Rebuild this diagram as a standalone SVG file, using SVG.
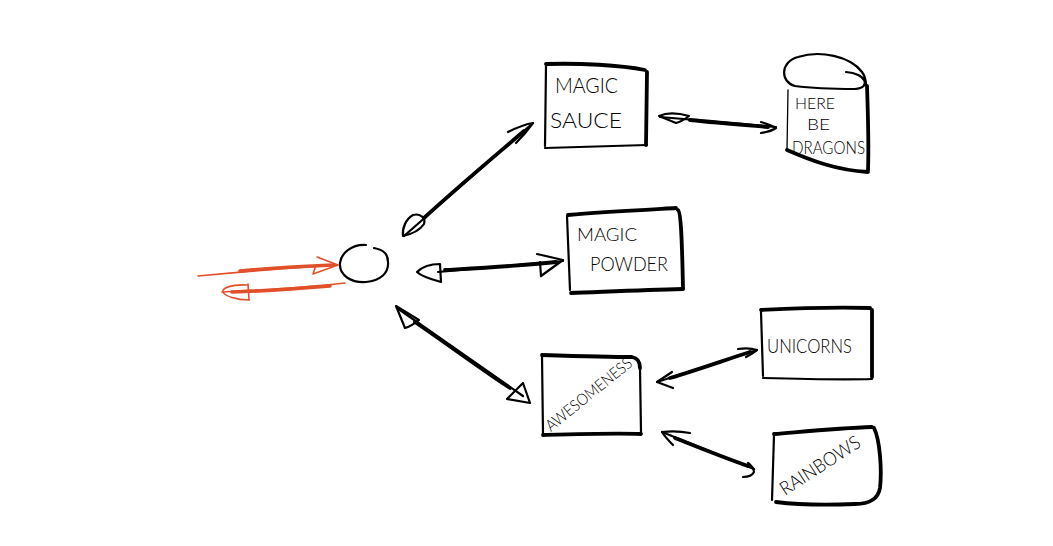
<svg xmlns="http://www.w3.org/2000/svg" width="1053" height="546" viewBox="0 0 1053 546">
  <style>
    .ln { fill: none; stroke: #000; stroke-width: 2.2; stroke-linecap: round; stroke-linejoin: round; }
    .th { fill: none; stroke: #000; stroke-width: 3.8; stroke-linecap: round; stroke-linejoin: round; }
    .fine { fill: none; stroke: #000; stroke-width: 1.3; stroke-linecap: round; stroke-linejoin: round; }
    .red { fill: none; stroke: #e2502a; stroke-width: 1.6; stroke-linecap: round; stroke-linejoin: round; }
    .redth { fill: none; stroke: #e2502a; stroke-width: 3.6; stroke-linecap: round; }
    .lbl { font-family: Lato, "Open Sans", "DejaVu Sans", sans-serif; font-weight: 300; fill: #000; }
  </style>
  <rect width="1053" height="546" fill="#fff"/>

  <!-- hub circle -->
  <g id="hub">
    <path class="ln" d="M366 245 C352 244 341 253 340 263 C339 276 352 283 366 282 C380 281 389 273 388 262 C388 254 384 250 374 248"/>
  </g>

  <!-- Magic Sauce -->
  <g id="magic-sauce">
    <path class="th" d="M546 64 C580 63 620 65 645 70"/>
    <path class="ln" d="M546 66 L545 146"/>
    <path class="th" d="M647 72 L646 145"/>
    <path class="ln" d="M545 148 C580 147 615 146 647 145"/>
    <text class="lbl" x="555" y="93" font-size="22" textLength="63" lengthAdjust="spacingAndGlyphs">MAGIC</text>
    <text class="lbl" x="550" y="128" font-size="22" textLength="72" lengthAdjust="spacingAndGlyphs">SAUCE</text>
  </g>

  <!-- Here Be Dragons (cylinder) -->
  <g id="here-be-dragons">
    <path class="ln" d="M846 72 C866 73 872 88 855 89 C835 89 810 88 795 86 C780 82 780 62 798 57 C820 50 850 56 862 72 C865 76 866 80 866 85"/>
    <path class="fine" d="M788 90 L787 150"/>
    <path class="th" d="M867 86 C868 115 869 145 868 170"/>
    <path class="th" d="M787 150 C810 160 835 170 868 172"/>
    <text class="lbl" x="795" y="109" font-size="16" textLength="40" lengthAdjust="spacingAndGlyphs">HERE</text>
    <text class="lbl" x="807" y="130" font-size="16" textLength="23" lengthAdjust="spacingAndGlyphs">BE</text>
    <text class="lbl" x="792" y="154" font-size="17" textLength="73" lengthAdjust="spacingAndGlyphs">DRAGONS</text>
  </g>

  <!-- Magic Powder -->
  <g id="magic-powder">
    <path class="th" d="M568 215 C600 212 640 210 676 208"/>
    <path class="ln" d="M567 216 L570 290"/>
    <path class="th" d="M678 210 C681 212 682 240 683 288"/>
    <path class="th" d="M571 293 C600 292 640 290 683 289"/>
    <text class="lbl" x="577" y="241" font-size="17" textLength="60" lengthAdjust="spacingAndGlyphs">MAGIC</text>
    <text class="lbl" x="590" y="271" font-size="20" textLength="78" lengthAdjust="spacingAndGlyphs">POWDER</text>
  </g>

  <!-- Awesomeness -->
  <g id="awesomeness">
    <path class="th" d="M542 355 C575 356 610 357 632 357 C638 358 640 362 640 368"/>
    <path class="ln" d="M542 356 L543 434"/>
    <path class="ln" d="M640 368 L641 432"/>
    <path class="th" d="M543 435 C580 434 615 433 641 434"/>
    <text class="lbl" font-size="16" textLength="106" lengthAdjust="spacingAndGlyphs" transform="translate(551 432) rotate(-39)">AWESOMENESS</text>
  </g>

  <!-- Unicorns -->
  <g id="unicorns">
    <path class="th" d="M761 310 C800 308 840 307 870 308"/>
    <path class="ln" d="M761 312 L763 376"/>
    <path class="th" d="M872 310 L872 377"/>
    <path class="ln" d="M763 378 C800 379 840 380 872 379"/>
    <text class="lbl" x="767" y="353" font-size="19" textLength="85" lengthAdjust="spacingAndGlyphs">UNICORNS</text>
  </g>

  <!-- Rainbows -->
  <g id="rainbows">
    <path class="th" d="M774 434 C810 431 840 428 872 427"/>
    <path class="ln" d="M774 435 L772 500"/>
    <path class="th" d="M874 428 C880 440 882 470 880 488 C878 500 868 504 855 504 C830 505 800 505 776 502"/>
    <text class="lbl" font-size="19" textLength="92" lengthAdjust="spacingAndGlyphs" transform="translate(785 496) rotate(-33)">RAINBOWS</text>
  </g>

  <!-- connectors -->
  <g id="connectors">
    <!-- red in/out pair -->
    <path class="red" d="M198 276 C240 272 290 268 338 265"/>
    <path class="redth" d="M240 271 C280 267 310 266 334 265"/>
    <path class="red" d="M317 257 L338 265 L313 274 L316 265"/>
    <path class="red" d="M345 283 C300 288 260 290 222 292"/>
    <path class="redth" d="M330 286 C295 289 262 291 232 292"/>
    <path class="red" d="M247 285 C232 284 222 288 223 292 C225 296 236 300 249 300"/>
    <path class="red" d="M248 284 L249 300"/>

    <!-- hub to Magic Sauce -->
    <path class="ln" d="M404 236 L533 123"/>
    <path class="th" d="M424 218 C460 185 495 156 524 131"/>
    <path class="ln" d="M508 132 C518 127 526 124 533 123 C528 130 522 137 516 143"/>
    <path class="ln" d="M403 236 C402 228 406 219 413 215 C420 213 426 218 424 224 C420 230 412 234 403 236"/>

    <!-- hub to Magic Powder -->
    <path class="ln" d="M438 272 L563 261"/>
    <path class="th" d="M445 270 C480 268 520 266 556 262"/>
    <path class="ln" d="M417 272 C423 266 433 264 440 264 L441 282 C430 279 421 276 417 272"/>
    <path class="ln" d="M537 254 L563 260 L541 276 L540 262"/>

    <!-- hub to Awesomeness -->
    <path class="ln" d="M397 308 L523 396"/>
    <path class="th" d="M415 322 C450 346 485 372 510 388"/>
    <path class="ln" d="M396 306 L419 320 C414 324 409 327 405 328 Z"/>
    <path class="ln" d="M507 399 L523 383 L530 403 Z"/>

    <!-- Magic Sauce to Here Be Dragons -->
    <path class="ln" d="M660 117 L776 127"/>
    <path class="th" d="M690 120 C720 123 745 125 768 127"/>
    <path class="ln" d="M659 116 C668 112 678 113 689 116 C684 120 680 122 676 123 Z"/>
    <path class="ln" d="M761 122 C768 124 773 126 776 128 C772 131 767 132 761 133"/>

    <!-- Awesomeness to Unicorns -->
    <path class="ln" d="M657 382 L757 350"/>
    <path class="th" d="M670 378 C700 369 725 360 750 352"/>
    <path class="ln" d="M672 372 L657 382 L673 388"/>
    <path class="ln" d="M738 349 C745 348 751 348 757 350 C753 353 750 355 746 357"/>

    <!-- Awesomeness to Rainbows -->
    <path class="ln" d="M662 432 L754 469"/>
    <path class="th" d="M675 438 C700 448 725 458 748 466"/>
    <path class="ln" d="M690 433 C680 431 670 431 662 432 C665 437 669 441 673 445"/>
    <path class="ln" d="M748 463 C752 466 754 469 754 472 C752 476 748 477 743 477"/>
  </g>
</svg>
